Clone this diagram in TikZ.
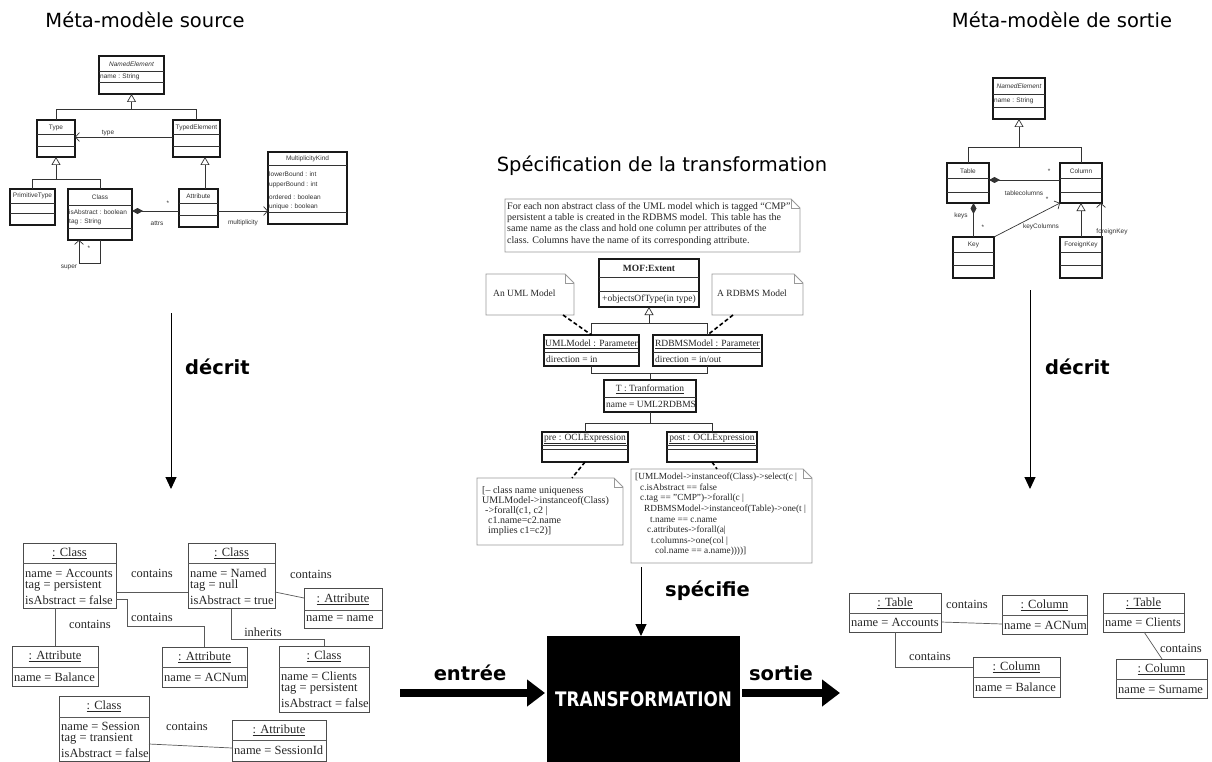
\documentclass[tikz,border=0pt]{standalone}
\usepackage{fontspec}
\usepackage{graphicx}
\setmainfont{Liberation Serif}
\setsansfont{Liberation Sans}
\newfontfamily\headfont{DejaVu Sans}
\usetikzlibrary{arrows.meta,calc}

\tikzset{
  mbox/.style={draw=black!90, line width=1.1pt, fill=white, inner sep=0pt, outer sep=0pt},
  mtxt/.style={font=\sffamily\fontsize{6.5}{7.5}\selectfont, text=black!80, inner sep=0pt},
  mline/.style={draw=black!80, line width=0.7pt},
  massoc/.style={mline, -{Straight Barb[length=4pt,width=9pt]}},
  mgen/.style={mline, -{Triangle[open,length=8pt,width=9pt]}},
  mcomp/.style={mline, {Diamond[length=11pt,width=6pt]}-},
  obox/.style={draw=black!70, line width=0.9pt, fill=white, inner sep=0pt, outer sep=0pt},
  otxt/.style={font=\fontsize{12.5}{13}\selectfont, inner sep=0pt, text=black!85},
  oline/.style={draw=black!65, line width=0.7pt},
  stxt/.style={font=\fontsize{9.5}{10.5}\selectfont, inner sep=0pt, text=black!85},
  notebox/.style={draw=black!40, line width=0.8pt, fill=white},
  dashlink/.style={draw=black, line width=1.6pt, dash pattern=on 4pt off 2.5pt},
  bigtxt/.style={font=\headfont\bfseries\fontsize{19.5}{21}\selectfont, inner sep=0pt},
  titletxt/.style={font=\headfont\fontsize{19.5}{21}\selectfont, inner sep=0pt},
  flowarrow/.style={line width=1pt, -{Triangle[length=12pt,width=11pt]}},
  fatarrow/.style={line width=8pt, -{Triangle[length=18pt,width=26pt]}},
}

% box node from its corners: style, name, x1, y1, x2, y2
\newcommand\boxat[6]{%
  \node[#1, minimum width={(#5-#3)*1pt}, minimum height={(#6-#4)*1pt}] (#2) at ({(#3+#5)/2},{(#4+#6)/2}) {};}
% horizontal compartment line
\newcommand\hsep[4][mline]{\draw[#1] (#2,#4) -- (#3,#4);}
% note with folded corner: name, x1, y1, x2, y2
\newcommand\notebx[5]{%
  \node[inner sep=0pt, outer sep=0pt, minimum width={(#4-#2)*1pt}, minimum height={(#5-#3)*1pt}] (#1) at ({(#2+#4)/2},{(#3+#5)/2}) {};
  \draw[notebox] (#2,#3) -- ({#4-9},#3) -- (#4,{#3+9}) -- (#4,#5) -- (#2,#5) -- cycle;
  \draw[notebox, fill=none] ({#4-9},#3) -- ({#4-9},{#3+9}) -- (#4,{#3+9});}

\begin{document}
\begin{tikzpicture}[x=1pt,y=-1pt]
\useasboundingbox (0,0) rectangle (1212,762);
\fill[white] (0,0) rectangle (1212,762);

% ---------- titles
\node[titletxt] (tsrc) at (145,20) {Méta-modèle source};
\node[titletxt] (tdst) at (1062,20) {Méta-modèle de sortie};
\node[titletxt] (tspec) at (662,166) {Spécification de la transformation};

% ---------- source metamodel
\boxat{mbox}{ne}{99}{56}{164}{94}
\hsep{99}{164}{71}\hsep{99}{164}{82}
\node[mtxt] (ne-h) at (131.5,64) {\itshape NamedElement};
\node[mtxt,anchor=west] (ne-a) at (100,77) {name : String};

\boxat{mbox}{ty}{37}{120}{75}{157}
\hsep{37}{75}{134}\hsep{37}{75}{146}
\node[mtxt] (ty-h) at (56,128) {Type};

\boxat{mbox}{te}{173}{120}{220}{157}
\hsep{173}{220}{134}\hsep{173}{220}{146}
\node[mtxt] (te-h) at (196.5,128) {TypedElement};

\draw[mline] (ty.north) |- (te.north |- 0,109) -- (te.north);
\draw[mgen] (ne.south |- 0,109) -- (ne.south);

\draw[massoc] (te.west |- 0,137) -- (ty.east |- 0,137);
\node[mtxt] (l-type) at (108,133) {type};

\boxat{mbox}{pty}{10}{189}{55}{225}
\hsep{10}{55}{203}\hsep{10}{55}{213}
\node[mtxt] (pty-h) at (32.5,196) {PrimitiveType};

\boxat{mbox}{cl}{68}{189}{132}{240}
\hsep{68}{132}{205}\hsep{68}{132}{228}
\node[mtxt] (cl-h) at (100,197) {Class};
\node[mtxt,anchor=west] (cl-a1) at (69,212) {isAbstract : boolean};
\node[mtxt,anchor=west] (cl-a2) at (69,222) {tag : String};

\draw[mline] (pty.north) |- (cl.north |- 0,179) -- (cl.north);
\draw[mgen] (ty.south |- 0,179) -- (ty.south);

\boxat{mbox}{att}{179}{189}{218}{227}
\hsep{179}{218}{203}\hsep{179}{218}{215}
\node[mtxt] (att-h) at (198.5,196) {Attribute};
\draw[mgen] (att.north -| 205,0) -- (te.south -| 205,0);

\draw[mcomp] (cl.east |- 0,211) -- (att.west |- 0,211);
\node[mtxt] (l-star1) at (168,203) {*};
\node[mtxt] (l-attrs) at (157,223) {attrs};

\boxat{mbox}{mk}{268}{152}{347}{224}
\hsep{268}{347}{165}\hsep{268}{347}{212}
\node[mtxt] (mk-h) at (307.5,159) {MultiplicityKind};
\node[mtxt,anchor=west] (mk-a1) at (269,174) {lowerBound : int};
\node[mtxt,anchor=west] (mk-a2) at (269,185) {upperBound : int};
\node[mtxt,anchor=west] (mk-a3) at (269,197) {ordered : boolean};
\node[mtxt,anchor=west] (mk-a4) at (269,207) {unique : boolean};

\draw[massoc] (att.east |- 0,211) -- (mk.west |- 0,211);
\node[mtxt] (l-mult) at (243,223) {multiplicity};

\draw[massoc] (cl.south -| 100,0) -- (100,263) -- (79,263) -- (cl.south -| 79,0);
\node[mtxt] (l-star2) at (89,248) {*};
\node[mtxt] (l-super) at (69,267) {super};

% ---------- target metamodel
\boxat{mbox}{ne2}{993}{78}{1045}{119}
\hsep{993}{1045}{94}\hsep{993}{1045}{107}
\node[mtxt] (ne2-h) at (1019,86) {\itshape NamedElement};
\node[mtxt,anchor=west] (ne2-a) at (994,101) {name : String};

\boxat{mbox}{tab}{947}{163}{989}{203}
\hsep{947}{989}{178}\hsep{947}{989}{192}
\node[mtxt] (tab-h) at (968,171) {Table};

\boxat{mbox}{col}{1060}{163}{1102}{203}
\hsep{1060}{1102}{178}\hsep{1060}{1102}{192}
\node[mtxt] (col-h) at (1081,171) {Column};

\draw[mline] (tab.north) |- (col.north |- 0,147) -- (col.north);
\draw[mgen] (ne2.south |- 0,147) -- (ne2.south);

\draw[mcomp] (tab.east |- 0,180) -- (col.west |- 0,180);
\node[mtxt] (l-star3) at (1049,171) {*};
\node[mtxt] (l-tcols) at (1024,193) {tablecolumns};

\boxat{mbox}{key}{953}{237}{994}{278}
\hsep{953}{994}{252}\hsep{953}{994}{265}
\node[mtxt] (key-h) at (973.5,245) {Key};

\boxat{mbox}{fk}{1060}{237}{1102}{278}
\hsep{1060}{1102}{252}\hsep{1060}{1102}{265}
\node[mtxt] (fk-h) at (1081,245) {ForeignKey};

\draw[mcomp] (tab.south -| key.north) -- (key.north);
\node[mtxt] (l-keys) at (961,216) {keys};
\node[mtxt] (l-star4) at (983,227) {*};

\draw[massoc] (key.north east) -- (col.south west);
\node[mtxt] (l-kcols) at (1041,227) {keyColumns};
\node[mtxt] (l-star5) at (1047,199) {*};

\draw[mgen] (fk.north) -- (col.south);
\draw[massoc] ([xshift=-1pt]fk.south east) -- ([xshift=-1pt]col.south east);
\node[mtxt] (l-fkey) at (1112,232) {foreignKey};

% ---------- "décrit" arrows
\coordinate (d1s) at (171,313);
\coordinate (d1e) at (171,489);
\draw[flowarrow] (d1s) -- (d1e);
\node[bigtxt,anchor=west] (l-d1) at (185,367) {décrit};

\coordinate (d2s) at (1030,290);
\coordinate (d2e) at (1030,489);
\draw[flowarrow] (d2s) -- (d2e);
\node[bigtxt,anchor=west] (l-d2) at (1045,367) {décrit};

% ---------- transformation specification
\notebx{spec}{505}{199}{800}{252}
\node[stxt, font=\fontsize{10}{11.3}\selectfont, anchor=north west, align=left] (spec-t) at (507,202)
  {For each non abstract class of the UML model which is tagged “CMP”\\
   persistent a table is created in the RDBMS model. This table has the\\
   same name as the class and hold one column per attributes of the\\
   class. Columns have the name of its corresponding attribute.};

\boxat{mbox}{mof}{599}{259}{699}{307}
\hsep{599}{699}{277}\hsep{599}{699}{291}
\node[stxt] (mof-h) at (649,268) {\bfseries MOF:Extent};
\node[stxt] (mof-o) at (649,299) {+objectsOfType(in type)};

\notebx{unote}{486}{274}{574}{315}
\node[stxt, anchor=west] (unote-t) at (493,293) {An UML Model};
\notebx{rnote}{712}{274}{803}{315}
\node[stxt, anchor=west] (rnote-t) at (717,293) {A RDBMS Model};

\boxat{mbox}{uml}{544}{335}{639}{366}
\hsep{544}{639}{352}
\node[stxt] (uml-h) at (591.5,344) {\underline{UMLModel : Parameter}};
\node[stxt,anchor=west] (uml-a) at (546,359) {direction = in};

\boxat{mbox}{rdb}{653}{335}{762}{366}
\hsep{653}{762}{352}
\node[stxt] (rdb-h) at (707.5,344) {\underline{RDBMSModel : Parameter}};
\node[stxt,anchor=west] (rdb-a) at (655,359) {direction = in/out};

\draw[mline] (uml.north) |- (rdb.north |- 0,323) -- (rdb.north);
\draw[mgen] (mof.south |- 0,323) -- (mof.south);

\draw[dashlink] (unote.south -| 563,0) -- (uml.north);
\draw[dashlink] (rnote.south -| 733,0) -- (rdb.north);

\boxat{mbox}{tr}{604}{380}{696}{412}
\hsep{604}{696}{397}
\node[stxt] (tr-h) at (650,389) {\underline{T : Tranformation}};
\node[stxt,anchor=west] (tr-a) at (606,404) {name = UML2RDBMS};

\draw[mline] (uml.south) |- (tr.north |- 0,373) -- (tr.north);
\draw[mline] (rdb.south) |- (tr.north |- 0,373);

\boxat{mbox}{pre}{542}{432}{628}{462}
\hsep{542}{628}{445}\hsep{542}{628}{449}
\node[stxt] (pre-h) at (585,439) {\underline{pre : OCLExpression}};

\boxat{mbox}{post}{667}{432}{757}{462}
\hsep{667}{757}{445}\hsep{667}{757}{449}
\node[stxt] (post-h) at (712,439) {\underline{post : OCLExpression}};

\draw[mline] (tr.south) |- (pre.north |- 0,423) -- (pre.north);
\draw[mline] (tr.south) |- (post.north |- 0,423) -- (post.north);

\notebx{prenote}{477}{478}{623}{545}
\node[stxt, font=\fontsize{10}{10}\selectfont, anchor=north west, align=left] (pre-t) at (482,486)
  {[-- class name uniqueness\\
   UMLModel->instanceof(Class)\\
   \hspace*{3pt}->forall(c1, c2 |\\
   \hspace*{6pt}c1.name=c2.name\\
   \hspace*{6pt}implies c1=c2)]};
\draw[dashlink] (pre.south) -- (prenote.north -| 572,0);

\notebx{postnote}{631}{469}{812}{563}
\node[stxt, font=\fontsize{9.3}{10.6}\selectfont, anchor=north west, align=left] (post-t) at (635,473)
  {[UMLModel->instanceof(Class)->select(c |\\
   \hspace*{5pt}c.isAbstract == false\\
   \hspace*{5pt}c.tag == "CMP")->forall(c |\\
   \hspace*{9pt}RDBMSModel->instanceof(Table)->one(t |\\
   \hspace*{15pt}t.name == c.name\\
   \hspace*{12pt}c.attributes->forall(a|\\
   \hspace*{16pt}t.columns->one(col |\\
   \hspace*{20pt}col.name == a.name))))]};
\draw[dashlink] (post.south) -- (postnote.north -| 717,0);

% ---------- transformation engine
\node[fill=black, minimum width=193pt, minimum height=126pt, inner sep=0pt, outer sep=0pt,
      text=white, font=\headfont\bfseries\fontsize{20}{22}\selectfont] (trans) at (643.5,699)
      {\scalebox{0.84}[1]{TRANSFORMATION}};

\coordinate (sp0) at (641,567);
\draw[flowarrow] (sp0) -- (trans.north -| sp0);
\node[bigtxt,anchor=west] (l-spec) at (665,591) {spécifie};

\coordinate (in0) at (400,693);
\draw[fatarrow] (in0) -- ([xshift=-2pt]trans.west |- in0);
\node[bigtxt] (l-in) at (470,673) {entrée};

\coordinate (out1) at (840,693);
\draw[fatarrow] ([xshift=2pt]trans.east |- out1) -- (out1);
\node[bigtxt] (l-out) at (781,673) {sortie};

% ---------- source model (instances)
\boxat{obox}{acc}{23}{543}{116}{608}
\hsep[oline]{23}{116}{563}
\node[otxt] (acc-h) at (69.5,553) {\underline{: Class}};
\node[otxt,anchor=west] (acc-1) at (25,573) {name = Accounts};
\node[otxt,anchor=west] (acc-2) at (25,586) {tag = persistent};
\node[otxt,anchor=west] (acc-3) at (25,600) {isAbstract = false};

\boxat{obox}{nam}{188}{543}{275}{608}
\hsep[oline]{188}{275}{563}
\node[otxt] (nam-h) at (231.5,553) {\underline{: Class}};
\node[otxt,anchor=west] (nam-1) at (190,573) {name = Named};
\node[otxt,anchor=west] (nam-2) at (190,586) {tag = null};
\node[otxt,anchor=west] (nam-3) at (190,600) {isAbstract = true};

\boxat{obox}{atn}{304}{588}{382}{628}
\hsep[oline]{304}{382}{610}
\node[otxt] (atn-h) at (343,599) {\underline{: Attribute}};
\node[otxt,anchor=west] (atn-1) at (306,619) {name = name};

\boxat{obox}{bal}{12}{646}{98}{686}
\hsep[oline]{12}{98}{667}
\node[otxt] (bal-h) at (55,656) {\underline{: Attribute}};
\node[otxt,anchor=west] (bal-1) at (14,677) {name = Balance};

\boxat{obox}{acn}{162}{647}{247}{687}
\hsep[oline]{162}{247}{667}
\node[otxt] (acn-h) at (204.5,657) {\underline{: Attribute}};
\node[otxt,anchor=west] (acn-1) at (164,677) {name = ACNum};

\boxat{obox}{cli}{279}{646}{369}{712}
\hsep[oline]{279}{369}{667}
\node[otxt] (cli-h) at (324,656) {\underline{: Class}};
\node[otxt,anchor=west] (cli-1) at (281,676) {name = Clients};
\node[otxt,anchor=west] (cli-2) at (281,689) {tag = persistent};
\node[otxt,anchor=west] (cli-3) at (281,703) {isAbstract = false};

\boxat{obox}{ses}{59}{696}{149}{761}
\hsep[oline]{59}{149}{717}
\node[otxt] (ses-h) at (104,706) {\underline{: Class}};
\node[otxt,anchor=west] (ses-1) at (61,726) {name = Session};
\node[otxt,anchor=west] (ses-2) at (61,739) {tag = transient};
\node[otxt,anchor=west] (ses-3) at (61,753) {isAbstract = false};

\boxat{obox}{sid}{232}{720}{326}{761}
\hsep[oline]{232}{326}{740}
\node[otxt] (sid-h) at (279,730) {\underline{: Attribute}};
\node[otxt,anchor=west] (sid-1) at (234,750) {name = SessionId};

\draw[oline] (acc.east |- 0,592) -- (nam.west |- 0,592);
\node[otxt] (c1) at (152,573) {contains};
\draw[oline] (acc.east |- 0,599) -- (127,599) |- (acn.north |- 0,626) -- (acn.north);
\node[otxt] (c2) at (152,617) {contains};
\draw[oline] (acc.south -| bal.north) -- (bal.north);
\node[otxt] (c3) at (90,624) {contains};
\draw[oline] (nam.east |- 0,592) -- (atn.west |- 0,598);
\node[otxt] (c4) at (311,574) {contains};
\draw[oline] (nam.south -| 231,0) |- (cli.north |- 0,639) -- (cli.north);
\node[otxt] (c5) at (263,632) {inherits};
\draw[oline] (ses.east |- 0,744) -- (sid.west |- 0,748);
\node[otxt] (c6) at (187,726) {contains};

% ---------- target model (instances)
\boxat{obox}{tacc}{849}{593}{941}{632}
\hsep[oline]{849}{941}{613}
\node[otxt] (tacc-h) at (895,603) {\underline{: Table}};
\node[otxt,anchor=west] (tacc-1) at (851,622) {name = Accounts};

\boxat{obox}{cacn}{1002}{595}{1087}{634}
\hsep[oline]{1002}{1087}{615}
\node[otxt] (cacn-h) at (1044.5,605) {\underline{: Column}};
\node[otxt,anchor=west] (cacn-1) at (1004,625) {name = ACNum};

\boxat{obox}{tcli}{1103}{593}{1184}{632}
\hsep[oline]{1103}{1184}{613}
\node[otxt] (tcli-h) at (1143.5,603) {\underline{: Table}};
\node[otxt,anchor=west] (tcli-1) at (1105,622) {name = Clients};

\boxat{obox}{cbal}{973}{657}{1060}{697}
\hsep[oline]{973}{1060}{677}
\node[otxt] (cbal-h) at (1016.5,667) {\underline{: Column}};
\node[otxt,anchor=west] (cbal-1) at (975,687) {name = Balance};

\boxat{obox}{csur}{1116}{659}{1207}{698}
\hsep[oline]{1116}{1207}{679}
\node[otxt] (csur-h) at (1161.5,669) {\underline{: Column}};
\node[otxt,anchor=west] (csur-1) at (1118,689) {name = Surname};

\draw[oline] (tacc.east |- 0,622) -- (cacn.west |- 0,624);
\node[otxt] (c7) at (967,604) {contains};
\draw[oline] (tacc.south -| 895,0) |- (cbal.west |- 0,667);
\node[otxt] (c8) at (930,656) {contains};
\draw[oline] (tcli.south -| 1144,0) -- (csur.north -| 1162,0);
\node[otxt] (c9) at (1181,648) {contains};
\end{tikzpicture}
\end{document}
